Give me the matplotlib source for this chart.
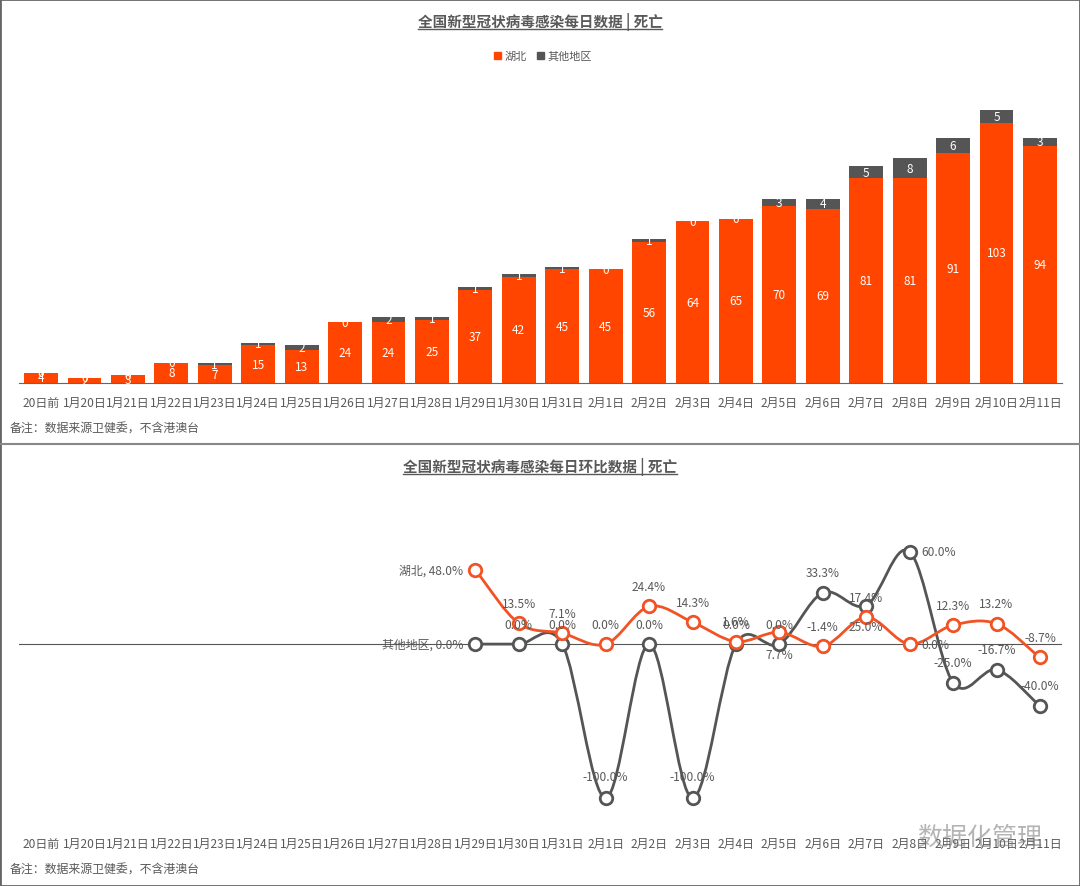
import matplotlib
matplotlib.use('Agg')
import matplotlib.pyplot as plt
from matplotlib.path import Path
from matplotlib.patches import PathPatch, Patch, Rectangle
from matplotlib.lines import Line2D
import numpy as np

plt.rcParams['font.family'] = ['Noto Sans CJK SC', 'DejaVu Sans']

dates = ['20日前', '1月20日', '1月21日', '1月22日', '1月23日', '1月24日', '1月25日',
         '1月26日', '1月27日', '1月28日', '1月29日', '1月30日', '1月31日', '2月1日',
         '2月2日', '2月3日', '2月4日', '2月5日', '2月6日', '2月7日', '2月8日',
         '2月9日', '2月10日', '2月11日']
hubei = [4, 2, 3, 8, 7, 15, 13, 24, 24, 25, 37, 42, 45, 45, 56, 64, 65, 70, 69, 81, 81, 91, 103, 94]
others = [0, 0, 0, 0, 1, 1, 2, 0, 2, 1, 1, 1, 1, 0, 1, 0, 0, 3, 4, 5, 8, 6, 5, 3]

# day-on-day change (%), from 1月29日 on
pct_start = 10
hubei_pct = [48.0, 13.5, 7.1, 0.0, 24.4, 14.3, 1.6, 7.7, -1.4, 17.4, 0.0, 12.3, 13.2, -8.7]
others_pct = [0.0, 0.0, 0.0, -100.0, 0.0, -100.0, 0.0, 0.0, 33.3, 25.0, 60.0, -25.0, -16.7, -40.0]

ORANGE = '#FF4500'
LINE_ORANGE = '#F25325'
DARK = '#555555'
TEXT = '#595959'

W, H = 1080, 887
fig = plt.figure(figsize=(W / 100, H / 100), dpi=100)


def fx(px):
    return px / W


def fy(py):
    return 1 - py / H


x = np.arange(len(dates))
left_px, right_px = 19.3, 1061.7

# ---------- top: stacked bars ----------
ax1 = fig.add_axes([fx(left_px), fy(384), fx(right_px - left_px), (384 - 81) / H])
ax1.bar(x, hubei, width=0.78, color=ORANGE)
ax1.bar(x, others, width=0.78, bottom=hubei, color=DARK)
for i in x:
    ax1.text(i, hubei[i] / 2, str(hubei[i]), ha='center', va='center', color='white', fontsize=8.5)
    ax1.text(i, hubei[i] + others[i] / 2, str(others[i]), ha='center', va='center',
             color='white', fontsize=8.5)
ax1.set_xlim(-0.5, len(dates) - 0.5)
ax1.set_ylim(0, 120)
ax1.set_yticks([])
ax1.set_xticks(x)
ax1.set_xticklabels(dates, fontsize=8.6, color=TEXT)
ax1.tick_params(axis='x', length=0, pad=9)
for s in ['top', 'right', 'left']:
    ax1.spines[s].set_visible(False)
ax1.spines['bottom'].set_color('#666666')

t1 = fig.text(0.5, fy(22), '全国新型冠状病毒感染每日数据 | 死亡', ha='center', va='center',
              fontsize=10.5, fontweight='bold', color=TEXT)
fig.legend(handles=[Patch(color=ORANGE, label='湖北'), Patch(color=DARK, label='其他地区')],
           loc='center', bbox_to_anchor=(fx(543), fy(57)), ncol=2, frameon=False,
           fontsize=8, handlelength=0.6, handleheight=0.6, handletextpad=0.3,
           columnspacing=1.0, labelcolor=TEXT)
fig.text(fx(10), fy(429), '备注：数据来源卫健委，不含港澳台', ha='left', va='center',
         fontsize=8.6, color=TEXT)

# ---------- bottom: smooth lines ----------
ax2 = fig.add_axes([fx(left_px), fy(830), fx(right_px - left_px), 339 / H])
ax2.set_xlim(-0.5, len(dates) - 0.5)
ax2.set_ylim(-120, 100)
ax2.axhline(0, color='#555555', lw=0.8, zorder=1)


def smooth_path(xs, ys):
    pts = np.column_stack([xs, ys]).astype(float)
    tang = np.zeros_like(pts)
    tang[1:-1] = (pts[2:] - pts[:-2]) / 2
    tang[0] = pts[1] - pts[0]
    tang[-1] = pts[-1] - pts[-2]
    verts = [pts[0]]
    codes = [Path.MOVETO]
    for i in range(len(pts) - 1):
        verts += [pts[i] + tang[i] / 3, pts[i + 1] - tang[i + 1] / 3, pts[i + 1]]
        codes += [Path.CURVE4] * 3
    return Path(verts, codes)


px_ = x[pct_start:]
for vals, col, z in [(others_pct, DARK, 2), (hubei_pct, LINE_ORANGE, 3)]:
    ax2.add_patch(PathPatch(smooth_path(px_, vals), facecolor='none', edgecolor=col,
                            lw=2, zorder=z))
    ax2.plot(px_, vals, 'o', ms=9, mfc='white', mec=col, mew=2, zorder=z + 0.5)

# label placement (pixel offsets): default above
k = 0.72
def place(series_name, vals, special):
    for j, v in enumerate(vals):
        dx, dy, ha = special.get(j, (0, 20, 'center'))
        txt = f'{v:.1f}%'
        if j == 0:
            txt = f'{series_name}, {v:.1f}%'
        ax2.annotate(txt, (px_[j], v), xytext=(dx * k, dy * k), textcoords='offset points',
                     ha=ha, va='center', fontsize=8.6, color=TEXT, zorder=6)


place('湖北', hubei_pct, {0: (-12, 0, 'right'), 7: (0, -22, 'center'), 10: (12, 0, 'left')})
place('其他地区', others_pct, {0: (-12, 0, 'right'), 3: (0, 22, 'center'), 5: (0, 22, 'center'),
                           9: (0, -21, 'center'), 10: (12, 0, 'left')})

ax2.set_yticks([])
ax2.set_xticks(x)
ax2.set_xticklabels(dates, fontsize=8.6, color=TEXT)
ax2.tick_params(axis='x', length=0, pad=6)
for s in ax2.spines.values():
    s.set_visible(False)

t2 = fig.text(0.5, fy(467), '全国新型冠状病毒感染每日环比数据 | 死亡', ha='center', va='center',
              fontsize=10.5, fontweight='bold', color=TEXT)
fig.text(fx(10), fy(870), '备注：数据来源卫健委，不含港澳台', ha='left', va='center',
         fontsize=8.6, color=TEXT)
fig.text(fx(980), fy(838), '数据化管理', ha='center', va='center', fontsize=18,
         color='#777777', alpha=0.55, zorder=10)

# frame and separator
fig.add_artist(Rectangle((0, 0), 1, 1, transform=fig.transFigure, fill=False,
                         edgecolor='#666666', lw=2))
fig.add_artist(Line2D([0, 1], [fy(444.5), fy(444.5)], transform=fig.transFigure,
                      color='#888888', lw=1.5))

# underline titles
fig.canvas.draw()
r = fig.canvas.get_renderer()
for t in (t1, t2):
    bb = t.get_window_extent(r)
    fig.add_artist(Line2D([bb.x0 / W, bb.x1 / W], [(bb.y0 + 1) / H] * 2,
                          transform=fig.transFigure, color=TEXT, lw=1))

fig.savefig('out.png', dpi=100)
